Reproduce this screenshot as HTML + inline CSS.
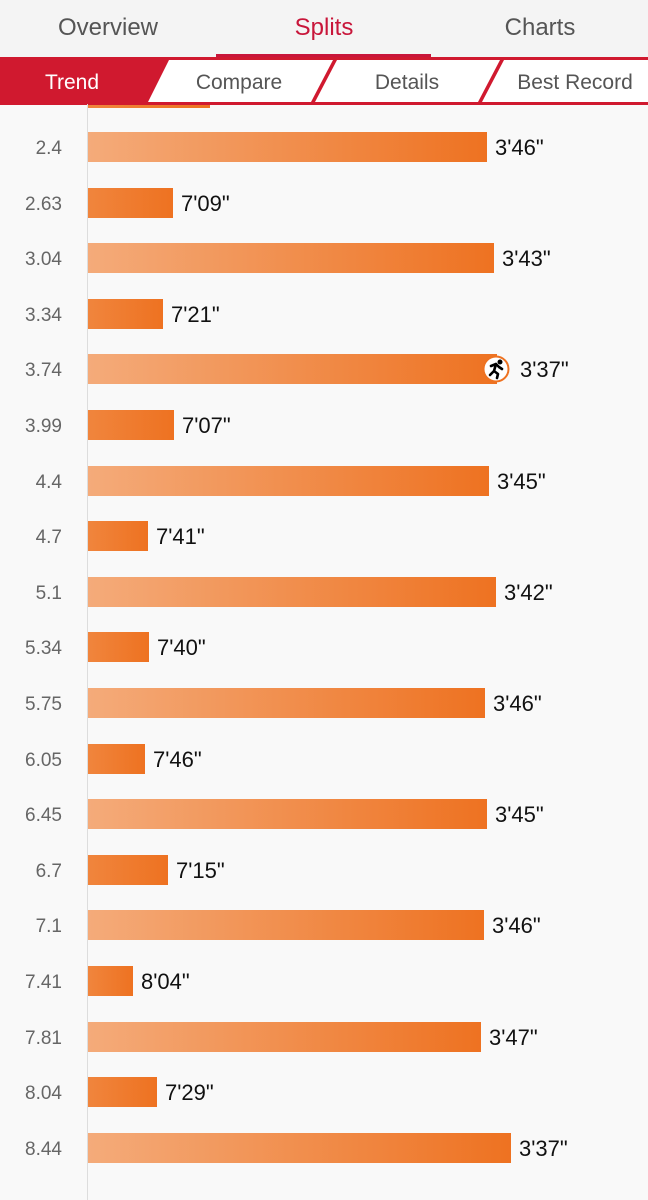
<!DOCTYPE html>
<html><head><style>
body{margin:0;width:648px;height:1200px;background:#f9f9f9;font-family:"Liberation Sans",sans-serif;position:relative;overflow:hidden}
.hdr{position:absolute;left:0;top:0;width:648px;height:58px;background:#f4f4f4}
.t{position:absolute;top:14px;font-size:24px;color:#555;text-align:center;width:216px}
.ax{position:absolute;left:87px;top:104px;width:1px;height:1096px;background:#ddd}
.lab{position:absolute;right:586px;font-size:19px;color:#666;line-height:30px}
.bar{position:absolute;left:88px;height:30px}
.lg{background:linear-gradient(90deg,#f4ab7a,#ee7221)}
.sh{background:linear-gradient(90deg,#f0853d,#ee7221)}
.v{position:absolute;font-size:22px;color:#111;line-height:30px}
</style></head><body>
<div class="hdr"></div>
<div class="t" style="left:0">Overview</div>
<div class="t" style="left:216px;color:#c8163a">Splits</div>
<div class="t" style="left:432px">Charts</div>
<div style="position:absolute;left:216px;top:54px;width:215px;height:4px;background:#c8163a"></div>
<svg style="position:absolute;left:0;top:57px" width="648" height="48">
<rect x="0" y="0" width="648" height="48" fill="#d0192f"/>
<polygon points="169,3 333,3 311,45 148,45" fill="#fff"/>
<polygon points="337,3 500,3 478,45 315,45" fill="#fff"/>
<polygon points="504,3 648,3 648,45 482,45" fill="#fff"/>
<text x="72" y="32" fill="#fff" font-size="21" text-anchor="middle" font-family="Liberation Sans">Trend</text>
<text x="239" y="32" fill="#555" font-size="21" text-anchor="middle" font-family="Liberation Sans">Compare</text>
<text x="407" y="32" fill="#555" font-size="21" text-anchor="middle" font-family="Liberation Sans">Details</text>
<text x="575" y="32" fill="#555" font-size="21" text-anchor="middle" font-family="Liberation Sans">Best Record</text>
</svg>
<div class="ax"></div>
<div class="bar sh" style="top:105px;width:122px;height:3px"></div>
<div id="rows"></div>
<script>
var d=[["2.4",487,"3'46\""],["2.63",173,"7'09\""],["3.04",494,"3'43\""],["3.34",163,"7'21\""],["3.74",497,"3'37\""],["3.99",174,"7'07\""],["4.4",489,"3'45\""],["4.7",148,"7'41\""],["5.1",496,"3'42\""],["5.34",149,"7'40\""],["5.75",485,"3'46\""],["6.05",145,"7'46\""],["6.45",487,"3'45\""],["6.7",168,"7'15\""],["7.1",484,"3'46\""],["7.41",133,"8'04\""],["7.81",481,"3'47\""],["8.04",157,"7'29\""],["8.44",511,"3'37\""]];
var h="";
d.forEach(function(r,i){var y=Math.round(147+i*55.6-15);var lg=r[1]>300;
h+='<div class="lab" style="top:'+(y+2)+'px">'+r[0]+'</div>';
h+='<div class="bar '+(lg?'lg':'sh')+'" style="top:'+y+'px;width:'+(r[1]-88)+'px"></div>';
if(i==4)h+='<svg style="position:absolute;left:482px;top:'+(y+1)+'px" width="28" height="28"><circle cx="14" cy="14" r="12.5" fill="#fff" stroke="#ee7221" stroke-width="2"/><circle cx="18" cy="7" r="2.5" fill="#000"/><path d="M9 11 L14 9 L17 12 L20 14 M14 9 L12 16 L16 19 L15 23 M12 16 L8 20" stroke="#000" stroke-width="2.6" fill="none" stroke-linecap="round" stroke-linejoin="round"/></svg>';
h+='<div class="v" style="top:'+(y+1)+'px;left:'+(i==4?520:r[1]+8)+'px">'+r[2]+'</div>';});
document.getElementById("rows").innerHTML=h;
</script>
</body></html>
